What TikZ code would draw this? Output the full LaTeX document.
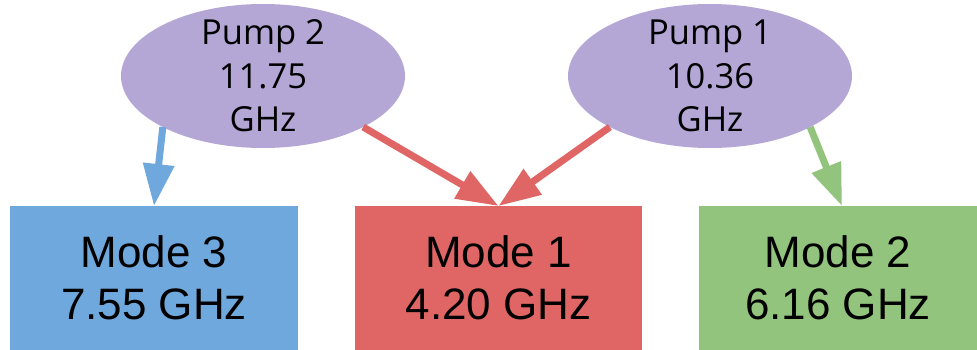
\documentclass[tikz,border=0pt]{standalone}
\usepackage{fontspec}
\setmainfont{Liberation Sans}
\newfontfamily\pumpfont{Open Sans}
\usetikzlibrary{shapes.geometric,arrows.meta}
\definecolor{pumpc}{HTML}{B4A7D6}
\definecolor{bluec}{HTML}{6FA8DC}
\definecolor{redc}{HTML}{E06666}
\definecolor{greenc}{HTML}{93C47D}
\tikzset{
  pump/.style={ellipse, fill=pumpc, draw=none, minimum width=284pt, minimum height=144pt, inner sep=0pt, outer sep=0pt},
  ptext/.style={font=\pumpfont\fontsize{34.5}{43.5}\selectfont, align=center, inner sep=0pt},
  mode/.style={rectangle, draw=none, minimum width=288pt, minimum height=144pt, inner sep=0pt, outer sep=0pt, align=center, font=\fontsize{44}{52}\selectfont},
  conn/.style={line width=7pt, -{Triangle[length=42pt,width=30pt]}},
}
\begin{document}
\begin{tikzpicture}[x=1pt,y=-1pt]
\useasboundingbox (0,0) rectangle (977,350);
\node[pump, label={[ptext]center:{Pump 2\\11.75\\GHz}}] (p2) at (263,76) {};
\node[pump, label={[ptext]center:{Pump 1\\10.36\\GHz}}] (p1) at (710,76) {};
\node[mode, fill=bluec, minimum width=288pt] (m3) at (154,278) {Mode 3\\7.55 GHz};
\node[mode, fill=redc, minimum width=287pt] (m1) at (498.5,278) {Mode 1\\4.20 GHz};
\node[mode, fill=greenc, minimum width=278pt] (m2) at (838,278) {Mode 2\\6.16 GHz};
\draw[conn, bluec] (p2.207) -- (m3.north);
\draw[conn, redc] (p2.333) -- (m1.north);
\draw[conn, redc] (p1.207) -- (m1.north);
\draw[conn, greenc] (p1.333) -- ([xshift=4pt]m2.north);
\end{tikzpicture}
\end{document}
